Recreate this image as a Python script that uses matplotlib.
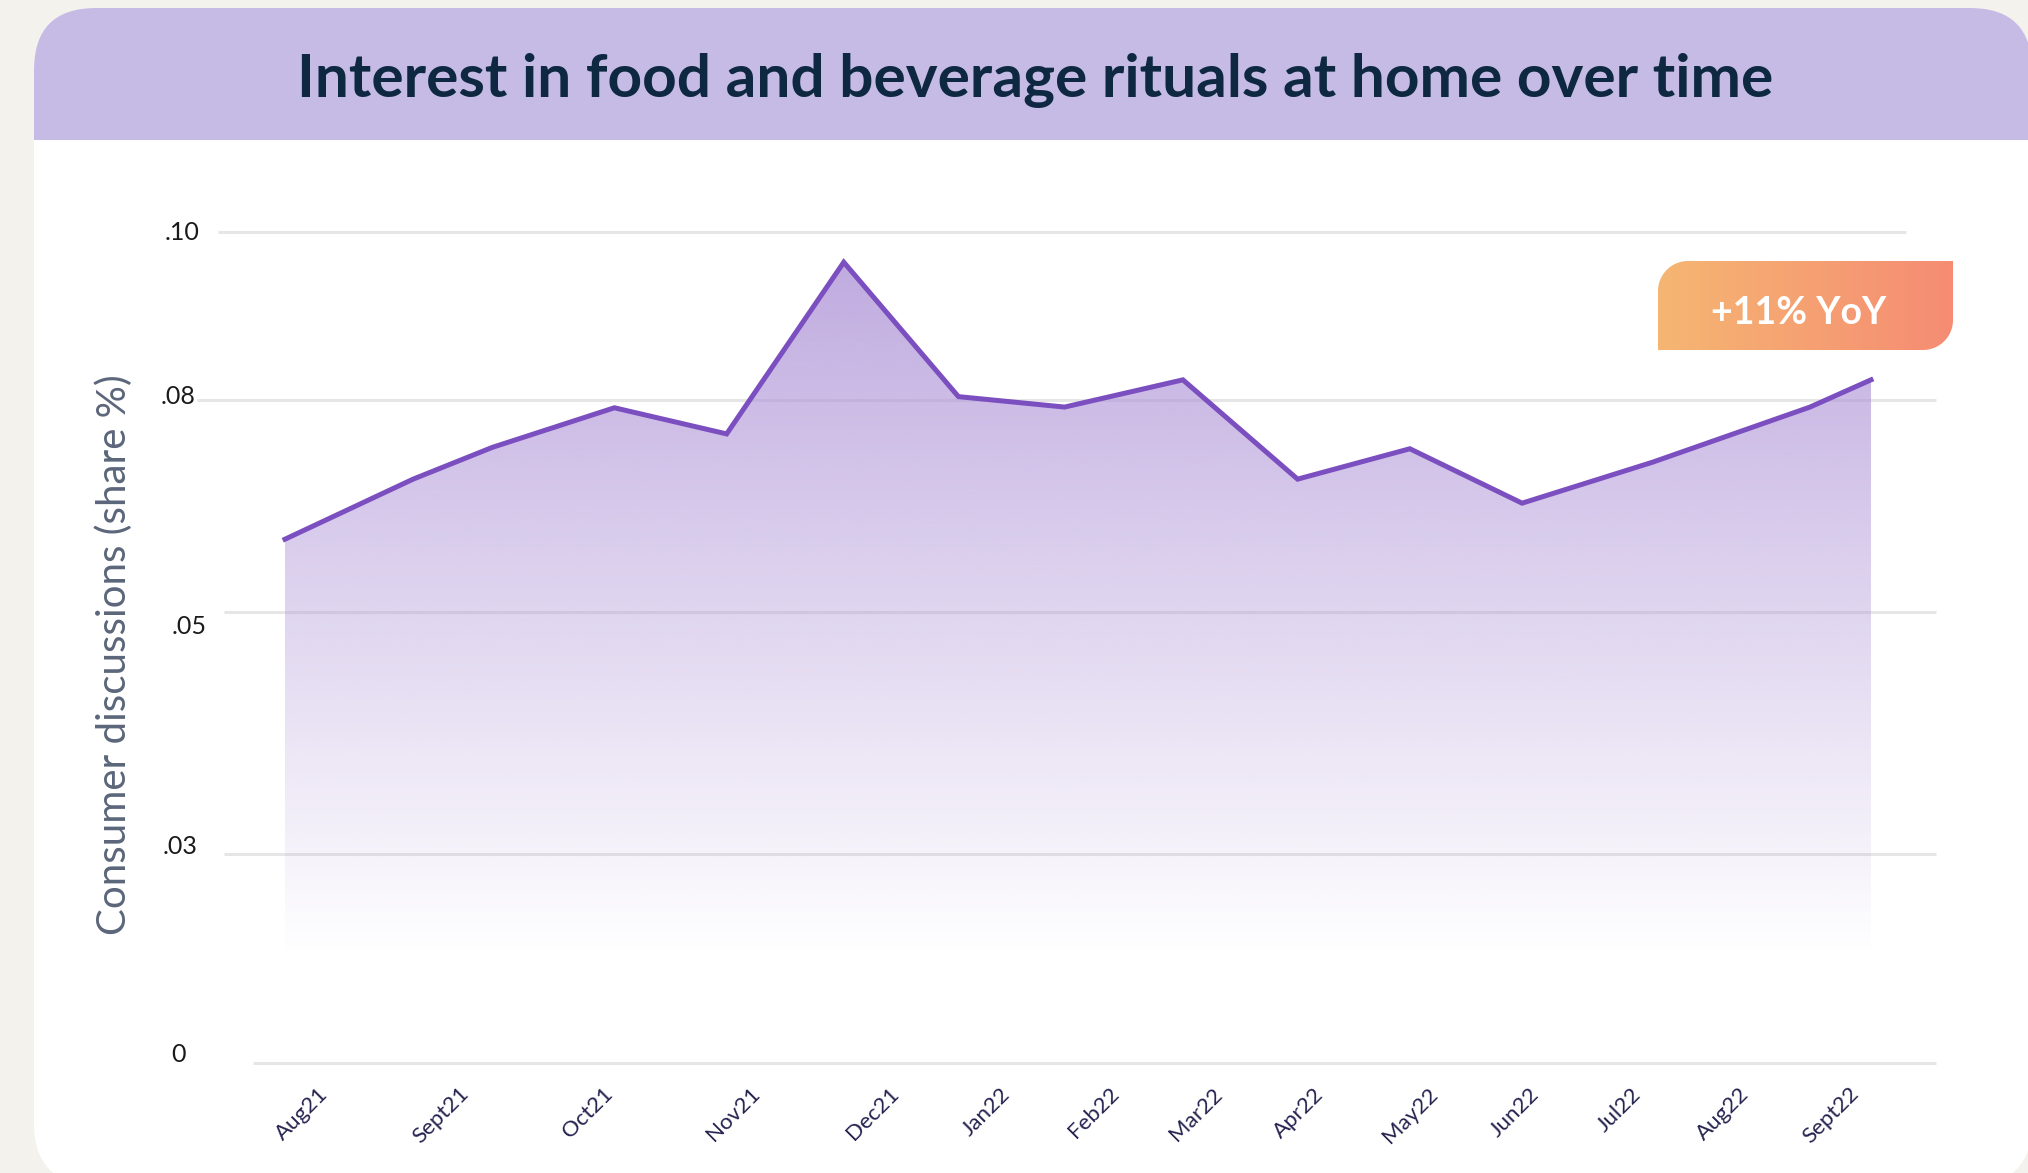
import numpy as np
import matplotlib
matplotlib.use("Agg")
import matplotlib.pyplot as plt
from matplotlib.patches import FancyBboxPatch, Polygon, Rectangle, PathPatch
from matplotlib.path import Path
from matplotlib.colors import to_rgb

# --- data ---
months = ["Aug21", "Sept21", "Oct21", "Nov21", "Dec21", "Jan22", "Feb22",
          "Mar22", "Apr22", "May22", "Jun22", "Jul22", "Aug22", "Sept22"]
# where each month label sits (months since Aug21, as drawn)
month_pos = [0.27, 1.42, 2.60, 3.81, 4.95, 5.86, 6.75,
             7.60, 8.43, 9.37, 10.20, 11.03, 11.92, 12.82]
# line vertices (months since Aug21) and share values
point_x = [0, 1.05, 1.70, 2.70, 3.62, 4.58, 5.52, 6.39,
           7.36, 8.30, 9.22, 10.14, 11.21, 12.50, 13.0]
share = [0.0603, 0.0688, 0.0733, 0.0789, 0.0752, 0.0964, 0.0804, 0.0790,
         0.0824, 0.0688, 0.0731, 0.0654, 0.0712, 0.0790, 0.0824]
y_ticks = [0, 0.03, 0.05, 0.08, 0.10]
y_tick_labels = ["0", ".03", ".05", ".08", ".10"]
title = "Interest in food and beverage rituals at home over time"
ylabel = "Consumer discussions (share %)"
badge = "+11% YoY"

W, H = 2028, 1173
FONT = ["Lato", "DejaVu Sans"]
# uneven axis as drawn: pixel row of each y tick
tick_rows = np.array([1063, 854, 612, 400, 232], float)

def fwd(v):
    return np.interp(v, y_ticks, -tick_rows)

def inv(p):
    return np.interp(p, -tick_rows, y_ticks)

X0_PX, X13_PX = 285, 1871
UNIT = (X13_PX - X0_PX) / 13.0

def px2x(px):
    return (px - X0_PX) / UNIT

fig = plt.figure(figsize=(W / 100, H / 100), dpi=100)
fig.patch.set_facecolor("#F3F2EC")

# background card in pixel coords
bg = fig.add_axes([0, 0, 1, 1], zorder=0)
bg.set_xlim(0, W)
bg.set_ylim(H, 0)
bg.axis("off")

card = FancyBboxPatch((34, 8), 2032 - 34, 1185 - 8,
                      boxstyle="round,pad=0,rounding_size=62",
                      fc="white", ec="none")
bg.add_patch(card)
header = Rectangle((0, 0), W, 140, fc="#C5BBE5", ec="none")
bg.add_patch(header)
header.set_clip_path(card)

bg.text(1035, 97, title, ha="center", va="baseline", fontsize=43.5,
        fontweight="bold", color="#0E2841", family=FONT)

# badge with two rounded corners and a horizontal gradient
bx0, bx1, by0, by1, r = 1658, 1953, 261, 350, 30
t1 = np.linspace(np.pi, 1.5 * np.pi, 20)
t2 = np.linspace(0, 0.5 * np.pi, 20)
verts = [(bx0, by1)]
verts += list(zip(bx0 + r + r * np.cos(t1), by0 + r + r * np.sin(t1)))
verts += [(bx1, by0)]
verts += list(zip(bx1 - r + r * np.cos(t2), by1 - r + r * np.sin(t2)))
verts += [(bx0, by1)]
badge_patch = PathPatch(Path(verts, closed=True), fc="none", ec="none")
bg.add_patch(badge_patch)
c0, c1 = np.array(to_rgb("#F6B673")), np.array(to_rgb("#F58C72"))
tt = np.linspace(0, 1, 256)[None, :, None]
bgrad = c0 * (1 - tt) + c1 * tt
bim = bg.imshow(bgrad, extent=[bx0, bx1, by1, by0], aspect="auto",
                interpolation="bilinear", zorder=2)
bim.set_clip_path(badge_patch)
bg.text(1799, 324, badge, ha="center", va="baseline",
        fontsize=27, fontweight="bold", color="white", zorder=3, family=FONT)
bg.set_xlim(0, W)
bg.set_ylim(H, 0)

fig.text(114 / W, 1 - 655 / H, ylabel, rotation=90, ha="center", va="center",
         fontsize=29, color="#5B667A", family=FONT)

# main chart
ax = fig.add_axes([150 / W, 1 - 1063 / H, (1940 - 150) / W, (1063 - 232) / H],
                  zorder=1)
ax.patch.set_alpha(0)
ax.set_yscale("function", functions=(fwd, inv))
xlim = (px2x(150), px2x(1940))
ax.set_xlim(*xlim)
ax.set_ylim(0, 0.10)
for s in ax.spines.values():
    s.set_visible(False)

grid_left = [253, 224, 224, 197, 218]
grid_right = [1936, 1936, 1936, 1936, 1906]
for v, l, rr in zip(y_ticks, grid_left, grid_right):
    ax.plot([px2x(l), px2x(rr)], [v, v], color="#E6E6E6", lw=2.2,
            zorder=1, clip_on=False, solid_capstyle="butt")

# gradient fill under the line
to_axes = ax.transAxes.inverted()
top_frac = to_axes.transform(ax.transData.transform((0, max(share))))[1]
fade_frac = to_axes.transform(ax.transData.transform((0, 0.015)))[1]
base = np.array(to_rgb("#B096D8"))
rgba = np.zeros((256, 1, 4))
rgba[..., :3] = base
rgba[:, 0, 3] = np.linspace(0.8, 0.0, 256)
im = ax.imshow(rgba, extent=[0, 1, fade_frac, top_frac], transform=ax.transAxes,
               aspect="auto", interpolation="bilinear", zorder=2)
poly = Polygon([(point_x[0], 0)] + list(zip(point_x, share)) + [(point_x[-1], 0)],
               closed=True, transform=ax.transData)
im.set_clip_path(poly)
ax.set_xlim(*xlim)
ax.set_ylim(0, 0.10)

ax.plot(point_x, share, color="#7B4FC0", lw=3.6, zorder=3, clip_on=False,
        solid_joinstyle="miter")

# y tick labels, placed as drawn
lab_right = [186, 197, 207, 196, 199]
lab_drop = [-9, -7, 15, -3, 0]
for v, lab, rx, dy in zip(y_ticks, y_tick_labels, lab_right, lab_drop):
    ax.annotate(lab, xy=(px2x(rx), v), xytext=(0, -dy * 0.72),
                textcoords="offset points", ha="right", va="center",
                fontsize=18, color="#1A1A1A", annotation_clip=False,
                family=FONT)
ax.set_yticks([])

ax.set_xticks(month_pos)
ax.set_xticklabels(months, rotation=45, ha="right", va="top",
                   rotation_mode="anchor", fontsize=16,
                   color="#25224F", family=FONT)
ax.tick_params(axis="x", length=0, pad=15)

fig.savefig("out.png", dpi=100, facecolor=fig.get_facecolor())
